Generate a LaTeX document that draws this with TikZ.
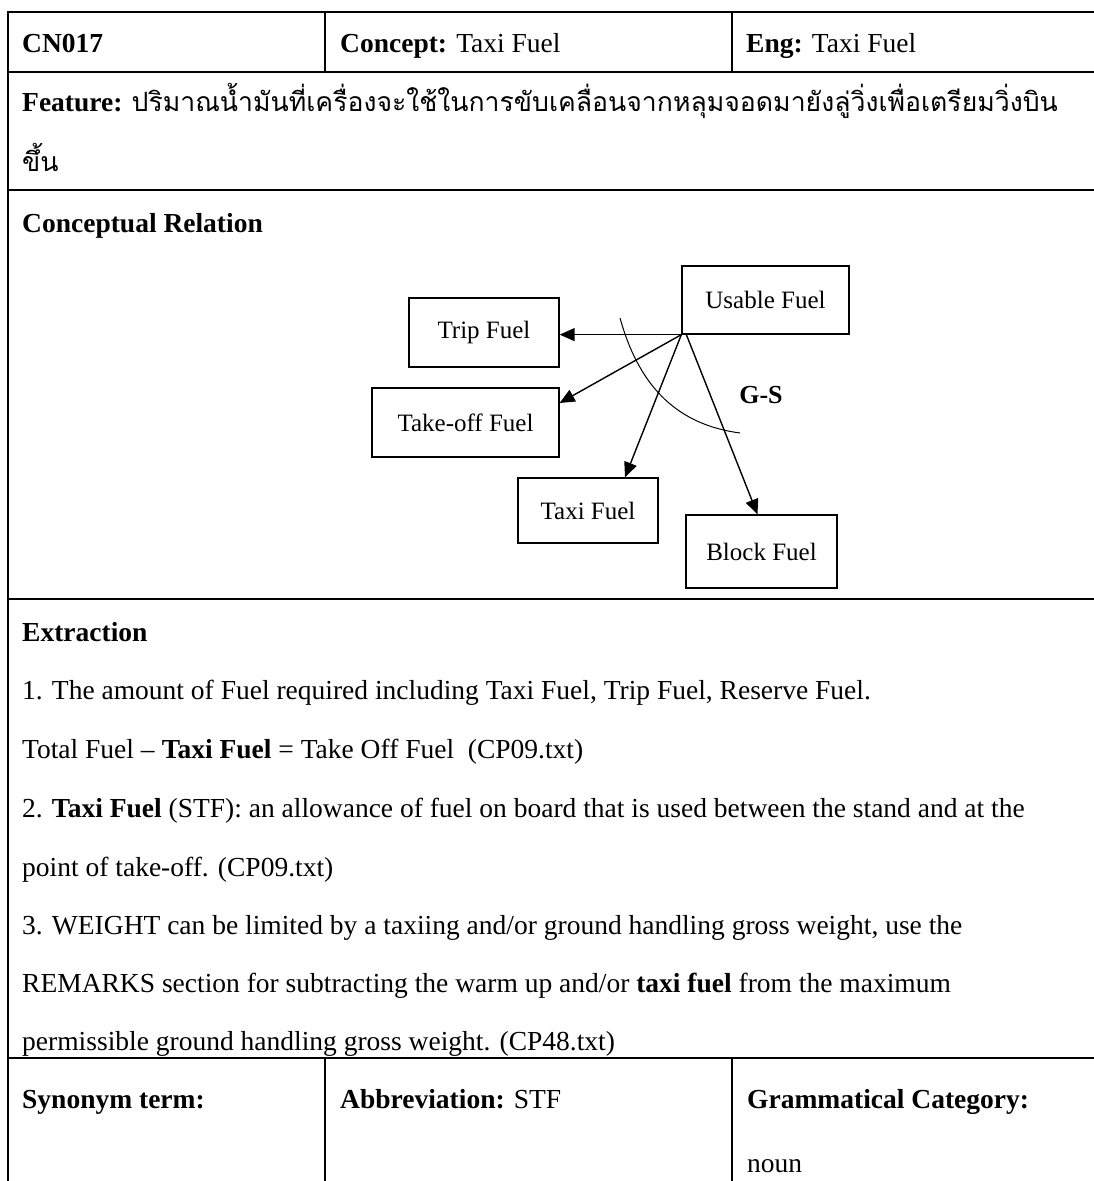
\documentclass[tikz,border=0pt]{standalone}
\usepackage{fontspec}
\setmainfont{Liberation Serif}
\newfontfamily\thaifont[Script=Thai]{Loma}
\usetikzlibrary{arrows.meta,calc}

\begin{document}
\begin{tikzpicture}[x=1pt,y=1pt,
  rule/.style={line width=2pt},
  colrule/.style={line width=1.6pt},
  cell/.style={anchor=base west, inner sep=0pt, font=\fontsize{27.5}{33}\selectfont},
  fbox/.style={draw, line width=1.3pt, inner sep=0pt, font=\fontsize{25}{29}\selectfont},
  arr/.style={line width=1.4pt, -{Triangle[length=15pt,width=13pt]}},
  tcurve/.style={line width=1pt}]

\useasboundingbox (0,0) rectangle (1094,1181);
\fill[white] (0,0) rectangle (1094,1181);

% table rules
\draw[rule] (8,1169) -- (1094,1169);
\draw[rule] (8,1109) -- (1094,1109);
\draw[rule] (8,991) -- (1094,991);
\draw[rule] (8,582) -- (1094,582);
\draw[rule] (8,123) -- (1094,123);
\draw[rule] (8,1170) -- (8,0);
\draw[colrule] (325,1169) -- (325,1109);
\draw[colrule] (732,1169) -- (732,1109);
\draw[colrule] (325,123) -- (325,0);
\draw[colrule] (732,123) -- (732,0);

% header row
\node[cell] (id) at (22,1128) {\textbf{CN017}};
\node[cell] (concept) at (340,1128) {\textbf{Concept:} Taxi Fuel};
\node[cell] (eng) at (746,1128) {\textbf{Eng:} Taxi Fuel};

% feature
\node[cell] (feat) at (22,1069) {\textbf{Feature:} {\thaifont\fontsize{26.6}{32}\selectfont ปริมาณน้ำมันที่เครื่องจะใช้ในการขับเคลื่อนจากหลุมจอดมายังลู่วิ่งเพื่อเตรียมวิ่งบิน}};
\node[cell] (feat2) at (22,1009) {\thaifont\fontsize{26.6}{32}\selectfont ขึ้น};

% conceptual relation
\node[cell] (cr) at (22,948) {\textbf{Conceptual Relation}};

\node[fbox, minimum width=167, minimum height=68] (usable) at (765.5,881) {Usable Fuel};
\node[fbox, minimum width=150, minimum height=69] (trip) at (484,848.5) {Trip Fuel};
\node[fbox, minimum width=187, minimum height=69] (take) at (465.5,758.5) {Take-off Fuel};
\node[fbox, minimum width=140, minimum height=65] (taxi) at (588,670.5) {Taxi Fuel};
\node[fbox, minimum width=151, minimum height=73] (block) at (761.5,629.5) {Block Fuel};

\coordinate (src) at (usable.south west);
\draw[arr] (src) -- (src -| trip.east);
\draw[arr] (src) -- ($(take.east)+(0,19.5)$);
\draw[arr] (src) -- ($(taxi.north)+(37,0)$);
\draw[arr] ($(src)+(5,0)$) -- ($(block.north)+(-4,0)$);
\draw[tcurve] (620,863) .. controls (640,791) and (680,756) .. (740,748);
\node[font=\bfseries\fontsize{26}{30}\selectfont] (gs) at (761,786) {G-S};

% extraction
\node[cell] (ex) at (22,539) {\textbf{Extraction}};
\node[cell] (e1) at (22,481) {1. The amount of Fuel required including Taxi Fuel, Trip Fuel, Reserve Fuel.};
\node[cell] (e1b) at (22,422) {Total Fuel – \textbf{Taxi Fuel} = Take Off Fuel\ \ (CP09.txt)};
\node[cell] (e2) at (22,363) {2. \textbf{Taxi Fuel} (STF): an allowance of fuel on board that is used between the stand and at the};
\node[cell] (e2b) at (22,304) {point of take-off. (CP09.txt)};
\node[cell] (e3) at (22,246) {3. WEIGHT can be limited by a taxiing and/or ground handling gross weight, use the};
\node[cell] (e3b) at (22,188) {REMARKS section for subtracting the warm up and/or \textbf{taxi fuel} from the maximum};
\node[cell] (e3c) at (22,130) {permissible ground handling gross weight. (CP48.txt)};

% bottom row
\node[cell] (syn) at (22,72) {\textbf{Synonym term:}};
\node[cell] (abbr) at (340,72) {\textbf{Abbreviation:} STF};
\node[cell] (gram) at (747,72) {\textbf{Grammatical Category:}};
\node[cell] (pos) at (747,9) {noun};
\end{tikzpicture}
\end{document}
